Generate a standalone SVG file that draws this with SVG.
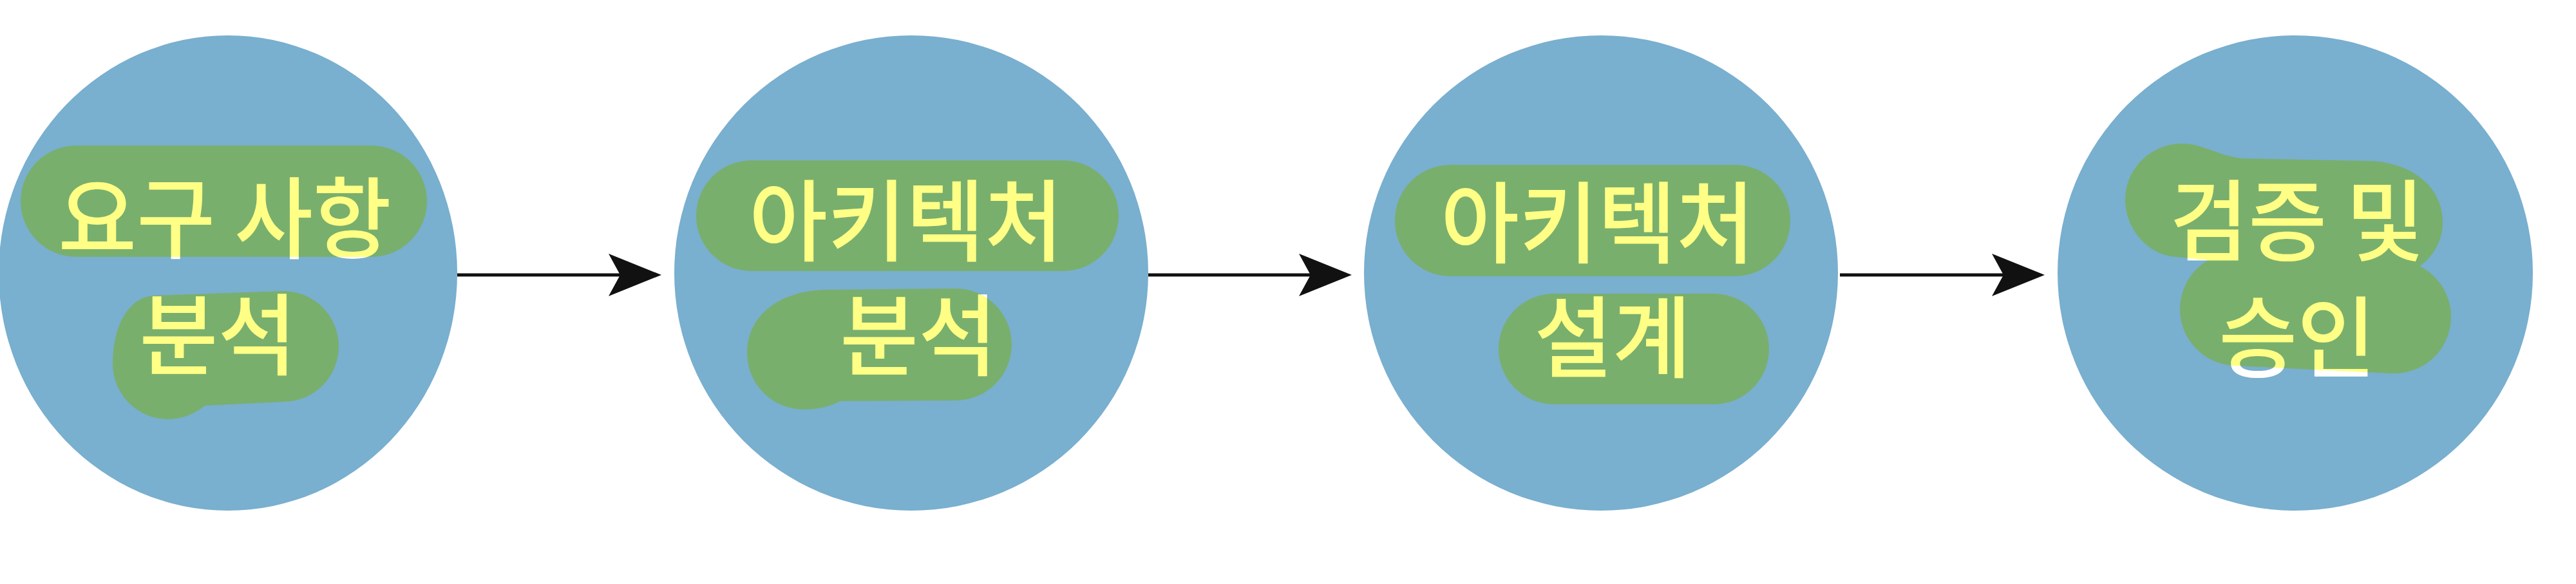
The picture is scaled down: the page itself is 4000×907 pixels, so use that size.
<svg xmlns="http://www.w3.org/2000/svg" width="4000" height="907" viewBox="0 0 4000 907">
  <style>
    .circle { fill: #79afcf; }
    .label { fill: #ffffff; font-family: "Noto Sans CJK KR", "Noto Sans", sans-serif; font-size: 138px; font-weight: 500; text-anchor: middle; }
    .hl { fill: #ffff86; stroke: none; mix-blend-mode: multiply; }
    .hls { fill: none; stroke: #ffff86; stroke-width: 176; stroke-linecap: round; }
    .conn { stroke: #111111; stroke-width: 5; fill: none; marker-end: url(#arrow); }
  </style>
  <defs>
    <marker id="arrow" markerUnits="userSpaceOnUse" markerWidth="90" markerHeight="70" refX="18" refY="33" orient="auto" overflow="visible">
      <path d="M82,33 L0,0 L18,33 L0,66 Z" fill="#111111"/>
    </marker>
  </defs>
  <rect x="0" y="0" width="4000" height="907" fill="#ffffff"/>

  <g id="connectors">
    <line class="conn" x1="710" y1="427" x2="963" y2="427"/>
    <line class="conn" x1="1783" y1="427" x2="2035" y2="427"/>
    <line class="conn" x1="2857" y1="427" x2="3111" y2="427"/>
  </g>

  <g id="node-requirements">
    <ellipse class="circle" cx="354" cy="424" rx="356" ry="369"/>
    <text class="label" transform="translate(349,0) scale(0.96,1)"><tspan x="0" y="390">요구 사항</tspan><tspan x="-11" y="571">분석</tspan></text>
    <g class="hl">
      <rect x="32" y="226" width="631" height="173" rx="86.5"/>
      <path d="M240,459 L440,452 A86,86 0 0 1 440,624 L318,630 Q292,651 260,651 A86,86 0 0 1 175,565 C175,505 200,461 240,459 Z"/>
    </g>
  </g>

  <g id="node-arch-analysis">
    <ellipse class="circle" cx="1415" cy="424" rx="368" ry="369"/>
    <text class="label" transform="translate(1407,0) scale(0.96,1)"><tspan x="0" y="394">아키텍처</tspan><tspan x="20" y="572">분석</tspan></text>
    <g class="hl">
      <rect x="1081" y="249" width="656" height="172" rx="86"/>
      <path d="M1280,450 L1484,448 A87,87 0 0 1 1484,622 L1305,623 Q1280,636 1248,636 A88,88 0 0 1 1160,548 C1160,490 1210,452 1280,450 Z"/>
    </g>
  </g>

  <g id="node-arch-design">
    <ellipse class="circle" cx="2486" cy="424" rx="368" ry="369"/>
    <text class="label" transform="translate(2481,0) scale(0.96,1)"><tspan x="0" y="397">아키텍처</tspan><tspan x="24" y="575">설계</tspan></text>
    <g class="hl">
      <rect x="2166" y="256" width="614" height="173" rx="86"/>
      <rect x="2327" y="456" width="420" height="172" rx="86"/>
    </g>
  </g>

  <g id="node-verify-approve">
    <ellipse class="circle" cx="3564" cy="424" rx="369" ry="369"/>
    <text class="label" transform="translate(3567,0) scale(0.96,1)"><tspan x="0" y="394">검증 및</tspan><tspan x="0" y="575">승인</tspan></text>
    <g class="hl">
      <path d="M3388,223 C3420,223 3440,240 3480,246 L3680,250 C3745,252 3793,290 3793,345 C3793,395 3750,431 3703,431 L3380,399 C3335,397 3300,355 3300,310 C3300,262 3340,223 3388,223 Z"/>
      <path class="hls" d="M3473,480 L3718,492"/>
    </g>
  </g>
</svg>
